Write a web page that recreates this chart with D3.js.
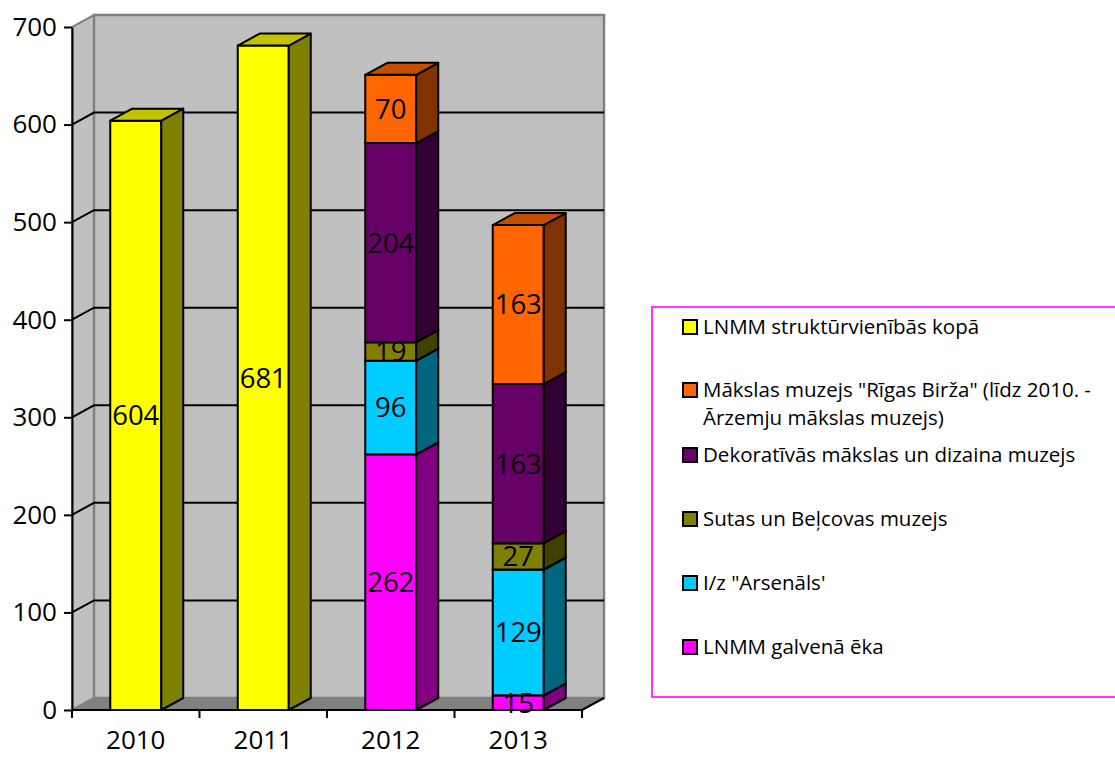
<!DOCTYPE html>
<html>
<head>
<meta charset="utf-8">
<script src="https://cdn.jsdelivr.net/npm/d3@7/dist/d3.min.js"></script>
<style>
  body { margin: 0; background: #fff; }
  svg { display: block; font-family: "Open Sans", sans-serif; }
</style>
</head>
<body>
<svg width="1115" height="758"></svg>
<script>
// categories
const years = ['2010', '2011', '2012', '2013']
const yTicks = [0, 100, 200, 300, 400, 500, 600, 700]

// series values (null = no bar)
const kopa      = [604, 681, null, null]
const galvena   = [null, null, 262, 15]
const arsenals  = [null, null, 96, 129]
const sutas     = [null, null, 19, 27]
const dekorativ = [null, null, 204, 163]
const birza     = [null, null, 70, 163]

const seriesNames = [
  'LNMM struktūrvienībās kopā',
  'LNMM galvenā ēka',
  'I/z "Arsenāls\'',
  'Sutas un Beļcovas muzejs',
  'Dekoratīvās mākslas un dizaina muzejs',
  'Mākslas muzejs "Rīgas Birža" (līdz 2010. - Ārzemju mākslas muzejs)'
]
const seriesColors = ['#FFFF00', '#FF00FF', '#00CCFF', '#808000', '#660066', '#FF6600']
const seriesValues = [kopa, galvena, arsenals, sutas, dekorativ, birza]

let svg = d3.select('svg')

let pLeft = 72, pRight = 582, pBottom = 710, pTop = 27
let dx = 22, dy = -12   // depth offset of the 3d box

let x = d3.scaleBand().domain(years).range([pLeft, pRight]).paddingInner(0.6).paddingOuter(0.3)
let y = d3.scaleLinear().domain([0, 700]).range([pBottom, pTop])

// walls
svg.append('polygon') // left side wall
  .attr('points', [[pLeft, pBottom], [pLeft + dx, pBottom + dy], [pLeft + dx, pTop + dy], [pLeft, pTop]].join(' '))
  .attr('fill', '#C0C0C0').attr('stroke', '#808080').attr('stroke-width', 2)
svg.append('rect') // back wall
  .attr('x', pLeft + dx).attr('y', pTop + dy)
  .attr('width', pRight - pLeft).attr('height', pBottom - pTop)
  .attr('fill', '#C0C0C0').attr('stroke', '#808080').attr('stroke-width', 2.5)
svg.append('polygon') // floor
  .attr('points', [[pLeft, pBottom], [pLeft + dx, pBottom + dy], [pRight + dx, pBottom + dy], [pRight, pBottom]].join(' '))
  .attr('fill', '#808080')

// gridlines
let grid = svg.append('g').attr('stroke', '#000').attr('stroke-width', 2).attr('fill', 'none')
yTicks.filter(t => t > 0 && t < 700).forEach(t => {
  grid.append('polyline')
    .attr('points', [[pLeft, y(t)], [pLeft + dx, y(t) + dy], [pRight + dx, y(t) + dy]].join(' '))
})

// stacked data
let rows = years.map((yr, i) => {
  let r = { year: yr }
  seriesNames.forEach((n, j) => r[n] = seriesValues[j][i] || 0)
  return r
})
let stacked = d3.stack().keys(seriesNames)(rows)

function darker(c, k) {
  let rgb = d3.rgb(c)
  return d3.rgb(rgb.r * k, rgb.g * k, rgb.b * k)
}

let bars = svg.append('g')
years.forEach((yr, i) => {
  let x0 = x(yr), x1 = x(yr) + x.bandwidth()
  stacked.forEach((s, j) => {
    let d = s[i]
    if (d[1] - d[0] <= 0) return
    let yb = y(d[0]), yt = y(d[1])
    let c = seriesColors[j]
    let g = bars.append('g').attr('stroke', '#000').attr('stroke-width', 2).attr('stroke-linejoin', 'round')
    g.append('rect').attr('x', x0).attr('y', yt).attr('width', x1 - x0).attr('height', yb - yt).attr('fill', c)
    g.append('polygon')
      .attr('points', [[x1, yb], [x1, yt], [x1 + dx, yt + dy], [x1 + dx, yb + dy]].join(' '))
      .attr('fill', darker(c, 0.5))
    g.append('polygon')
      .attr('points', [[x0, yt], [x0 + dx, yt + dy], [x1 + dx, yt + dy], [x1, yt]].join(' '))
      .attr('fill', darker(c, 0.76))
  })
})

// value labels
years.forEach((yr, i) => {
  stacked.forEach((s, j) => {
    let d = s[i]
    let v = d[1] - d[0]
    if (v <= 0) return
    svg.append('text')
      .attr('x', x(yr) + x.bandwidth() / 2)
      .attr('y', (y(d[0]) + y(d[1])) / 2)
      .attr('dy', '0.36em')
      .attr('text-anchor', 'middle')
      .attr('font-size', 27.5)
      .attr('fill', '#000')
      .text(v)
  })
})

// y axis
let yAxis = svg.append('g')
  .attr('transform', 'translate(' + pLeft + ',0)')
  .call(d3.axisLeft(y).tickValues(yTicks).tickSize(8).tickPadding(7).tickSizeOuter(0))
yAxis.select('.domain').attr('stroke', '#000').attr('stroke-width', 2)
yAxis.selectAll('.tick line').attr('stroke', '#000').attr('stroke-width', 2)
yAxis.selectAll('.tick text').attr('font-size', 26).attr('font-family', '"Open Sans", sans-serif').attr('fill', '#000')

// x axis
svg.append('line').attr('x1', pLeft).attr('x2', pRight).attr('y1', pBottom).attr('y2', pBottom)
  .attr('stroke', '#000').attr('stroke-width', 2)
svg.append('line').attr('x1', pRight).attr('x2', pRight + dx).attr('y1', pBottom).attr('y2', pBottom + dy)
  .attr('stroke', '#000').attr('stroke-width', 2)
let step = x.step()
d3.range(years.length + 1).forEach(k => {
  svg.append('line').attr('x1', pLeft + k * step).attr('x2', pLeft + k * step)
    .attr('y1', pBottom).attr('y2', pBottom + 8).attr('stroke', '#000').attr('stroke-width', 2)
})
svg.selectAll('.xlab').data(years).enter().append('text')
  .attr('class', 'xlab')
  .attr('x', d => x(d) + x.bandwidth() / 2)
  .attr('y', 749)
  .attr('text-anchor', 'middle')
  .attr('font-size', 26)
  .text(d => d)

// legend
svg.append('rect').attr('x', 652).attr('y', 307).attr('width', 480).attr('height', 390)
  .attr('fill', '#fff').attr('stroke', '#FF33FF').attr('stroke-width', 2)
let legendOrder = [0, 5, 4, 3, 2, 1]
let legendY = [327, 390, 455, 519, 583, 647]
legendOrder.forEach((j, k) => {
  let ly = legendY[k]
  svg.append('rect').attr('x', 683).attr('y', ly - 7).attr('width', 14).attr('height', 14)
    .attr('fill', seriesColors[j]).attr('stroke', '#000').attr('stroke-width', 2)
  let lines = j === 5 ? ['Mākslas muzejs "Rīgas Birža" (līdz 2010. -', 'Ārzemju mākslas muzejs)'] : [seriesNames[j]]
  lines.forEach((ln, li) => {
    svg.append('text').attr('x', 703).attr('y', ly + li * 28).attr('dy', '0.35em')
      .attr('font-size', 20.5).text(ln)
  })
})
</script>
</body>
</html>
